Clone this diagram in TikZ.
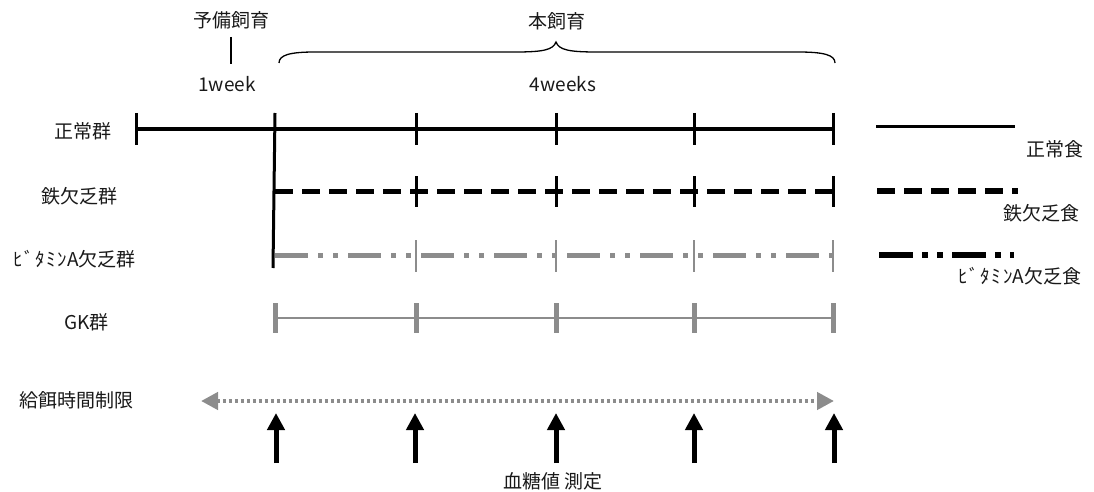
\documentclass[tikz,border=0pt]{standalone}
\usepackage{fontspec}
\setmainfont{Noto Sans CJK JP}
\usetikzlibrary{arrows.meta}
\definecolor{linegray}{RGB}{140,140,140}
\tikzset{
  lbl/.style={inner sep=0pt, font=\fontsize{19}{19}\selectfont, text=black!90},
  normalline/.style={line width=3.5pt, black},
  blacktick/.style={line width=3pt, black},
  ironline/.style={line width=5pt, black, dash pattern=on 18pt off 9pt},
  vitline/.style={line width=5pt, linegray, dash pattern=on 33pt off 10pt on 5pt off 10pt on 5pt off 10pt},
  vitlegend/.style={line width=5.5pt, black, dash pattern=on 34pt off 9pt on 6pt off 9pt on 6pt off 9pt},
  vittick/.style={line width=2.5pt, linegray},
  gkline/.style={line width=2.5pt, linegray},
  gktick/.style={line width=5pt, linegray},
  feedarrow/.style={line width=4.5pt, linegray, dash pattern=on 3.5pt off 2.5pt,
    {Triangle[length=17pt,width=17pt]}-{Triangle[length=17pt,width=17pt]}},
  measarrow/.style={line width=5pt, black, -{Triangle[length=17pt,width=17pt]}},
  bracestyle/.style={line width=1.3pt, black}
}
\begin{document}
\begin{tikzpicture}[x=1pt,y=-1pt]
\useasboundingbox (0,0) rectangle (1094,492);

% top labels
\node[lbl] (pre) at (231,20) {予備飼育};
\coordinate (preTa) at (231,37);
\coordinate (preTb) at (231,64);
\draw[line width=1.5pt] (preTa) -- (preTb);
\node[lbl] (week1) at (227,84) {1week};
\node[lbl] (main) at (557,21) {本飼育};
\node[lbl] (week4) at (563,84) {4weeks};
\coordinate (brL) at (279,63);
\coordinate (brM) at (556,42);
\coordinate (brR) at (835,63);
\draw[bracestyle] (brL) .. controls (279,55) and (290,52) .. (315,52) -- (515,52)
  .. controls (543,52) and (553,50) .. (brM)
  .. controls (559,50) and (569,52) .. (597,52) -- (798,52)
  .. controls (824,52) and (835,55) .. (brR);

% group labels
\node[lbl, anchor=east] (gNormal) at (112,131) {正常群};
\node[lbl, anchor=east] (gIron) at (118,196) {鉄欠乏群};
\node[lbl, anchor=east] (gVit) at (136,259) {\addfontfeatures{LetterSpace=8}ﾋﾞﾀﾐﾝ\addfontfeatures{LetterSpace=0}A欠乏群};
\node[lbl, anchor=east] (gGK) at (109,322) {GK群};
\node[lbl, anchor=east] (gFeed) at (134,400) {給餌時間制限};

% tick x positions
\foreach \n/\x in {0/136,1/275,2/416,3/556,4/694,5/833}{
  \coordinate (n\n) at (\x,129);
  \coordinate (i\n) at (\x,191);
  \coordinate (v\n) at (\x,255);
  \coordinate (g\n) at (\x,318);
}

% normal row
\draw[normalline] (n0) -- (n5);
\foreach \n in {0,2,3,4,5}{
  \draw[blacktick] ([yshift=16pt]n\n) -- ([yshift=-16pt]n\n);
}
\coordinate (split) at (273,268);
\draw[blacktick] ([yshift=16pt]n1) -- (split);

% iron row
\draw[ironline] (i1) -- (i5);
\foreach \n in {2,3,4,5}{
  \draw[blacktick] ([yshift=15pt]i\n) -- ([yshift=-16pt]i\n);
}

% vitamin A row
\draw[vitline] (v1) -- (v5);
\foreach \n in {2,3,4,5}{
  \draw[vittick] ([yshift=15pt]v\n) -- ([yshift=-17pt]v\n);
}

% GK row
\draw[gkline] (g1) -- (g5);
\foreach \n in {1,2,3,4,5}{
  \draw[gktick] ([yshift=15pt]g\n) -- ([yshift=-15pt]g\n);
}

% feeding restriction arrow
\coordinate (fL) at (201,401);
\coordinate (fR) at (834,401);
\draw[feedarrow] (fL) -- (fR);

% measurement arrows
\foreach \n/\x in {1/276,2/415,3/556,4/694,5/834}{
  \coordinate (mb\n) at (\x,463);
  \coordinate (mt\n) at (\x,413);
  \draw[measarrow] (mb\n) -- (mt\n);
}
\node[lbl] (meas) at (553,481) {血糖値 測定};

% legend
\coordinate (lnA) at (876,127);
\coordinate (lnB) at (1015,127);
\draw[line width=3pt] (lnA) -- (lnB);
\node[lbl] (lNormal) at (1055,149) {正常食};
\coordinate (liA) at (877,191);
\coordinate (liB) at (1018,191);
\draw[ironline, line width=5.5pt] (liA) -- (liB);
\node[lbl] (lIron) at (1041,213) {鉄欠乏食};
\coordinate (lvA) at (879,255);
\coordinate (lvB) at (1014,255);
\draw[vitlegend] (lvA) -- (lvB);
\node[lbl] (lVit) at (1020,276) {\addfontfeatures{LetterSpace=8}ﾋﾞﾀﾐﾝ\addfontfeatures{LetterSpace=0}A欠乏食};
\end{tikzpicture}
\end{document}
